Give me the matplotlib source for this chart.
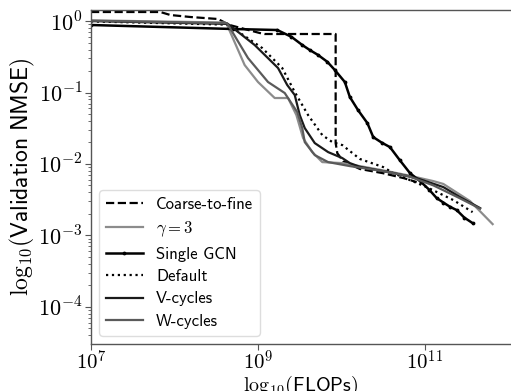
import matplotlib
matplotlib.use("Agg")
import matplotlib.pyplot as plt
import numpy as np

plt.rcParams["mathtext.fontset"] = "cm"

# values, as log10 exponents
coarse_x = [7.00, 7.83, 7.95, 8.19, 8.52, 8.66, 9.02, 9.08, 9.93, 9.93, 9.95, 10.02, 10.22, 10.50, 10.75, 10.90]
coarse_y = [0.127, 0.127, 0.085, 0.057, 0.029, -0.055, -0.167, -0.181, -0.181, -1.708, -1.85, -1.96, -2.07, -2.13, -2.20, -2.254]

gamma_x = [7.00, 8.60, 8.63, 8.84, 9.00, 9.20, 9.36, 9.46, 9.54, 9.65, 9.77, 10.01, 10.22, 10.50, 10.80, 11.10, 11.22, 11.54, 11.81]
gamma_y = [0.01, -0.02, -0.055, -0.615, -0.853, -1.077, -1.077, -1.316, -1.638, -1.834, -1.974, -1.988, -2.03, -2.09, -2.16, -2.24, -2.28, -2.52, -2.842]

single_x = [7.00, 8.70, 9.23, 9.40, 9.53, 9.62, 9.72, 9.83, 9.92, 10.04, 10.10, 10.20, 10.31, 10.38, 10.48, 10.58, 10.70, 10.82,
            10.95, 11.05, 11.14, 11.22, 11.30, 11.38, 11.47, 11.57]
single_y = [-0.055, -0.111, -0.125, -0.22, -0.335, -0.405, -0.475, -0.57, -0.685, -0.853, -1.063, -1.25, -1.428, -1.624, -1.70,
            -1.764, -1.95, -2.128, -2.25, -2.36, -2.478, -2.54, -2.60, -2.646, -2.75, -2.828]

default_x = [7.00, 8.64, 9.05, 9.29, 9.44, 9.60, 9.77, 9.89, 10.01, 10.22, 10.50, 10.62, 11.02, 11.34, 11.57]
default_y = [-0.005, -0.05, -0.377, -0.657, -0.993, -1.316, -1.596, -1.694, -1.736, -1.93, -2.044, -2.128, -2.324, -2.506, -2.674]

vcyc_x = [7.00, 8.64, 8.96, 9.24, 9.35, 9.44, 9.50, 9.56, 9.68, 9.84, 10.01, 10.10, 10.22, 10.62, 10.90, 11.22, 11.42, 11.66]
vcyc_y = [0.0, -0.04, -0.335, -0.657, -0.895, -1.035, -1.316, -1.498, -1.708, -1.834, -1.918, -1.988, -2.04, -2.128, -2.198, -2.324, -2.464, -2.618]

wcyc_x = [7.00, 8.63, 8.88, 9.12, 9.32, 9.47, 9.53, 9.56, 9.68, 9.84, 10.10, 10.50, 10.80, 11.10, 11.40, 11.66]
wcyc_y = [0.005, -0.03, -0.517, -0.853, -1.007, -1.274, -1.498, -1.694, -1.876, -1.974, -2.03, -2.10, -2.17, -2.30, -2.47, -2.625]

y_ticks = [0, -1, -2, -3, -4]
x_ticks = [7, 9, 11]


def p(v):
    return 10.0 ** np.asarray(v)


fig = plt.figure(figsize=(5.11, 3.91), dpi=100)
ax = fig.add_axes([91 / 511, 47 / 391, 420 / 511, 334 / 391])

ax.plot(p(coarse_x), p(coarse_y), color="black", ls="--", lw=1.6, label="Coarse-to-fine")
ax.plot(p(gamma_x), p(gamma_y), color="#8c8c8c", lw=1.6, label=r"$\gamma = 3$")
ax.plot(p(single_x), p(single_y), color="black", lw=1.8, marker=".", ms=3.5, label="Single GCN")
ax.plot(p(default_x), p(default_y), color="black", ls=":", lw=1.6, label="Default")
ax.plot(p(vcyc_x), p(vcyc_y), color="#1a1a1a", lw=1.6, label="V-cycles")
ax.plot(p(wcyc_x), p(wcyc_y), color="#5a5a5a", lw=1.6, label="W-cycles")

ax.set_xscale("log")
ax.set_yscale("log")
ax.set_xlim(1e7, 10 ** 12.03)
ax.set_ylim(10 ** -4.52, 10 ** 0.155)

ax.set_xticks(p(x_ticks))
ax.set_xticklabels([r"$10^{%d}$" % t for t in x_ticks])
ax.xaxis.set_minor_locator(matplotlib.ticker.NullLocator())
ax.set_yticks(p(y_ticks))
ax.set_yticklabels([r"$10^{%d}$" % t for t in y_ticks])
ax.tick_params(axis="both", which="major", labelsize=16, color="#555555", length=4, width=0.8, pad=2)
ax.tick_params(axis="x", which="major", labelsize=15, pad=0)
ax.tick_params(axis="y", which="minor", color="#555555", length=2, width=0.6)

for side in ["left", "bottom", "top"]:
    ax.spines[side].set_color("#555555")
    ax.spines[side].set_linewidth(1.0)
ax.spines["right"].set_visible(False)

ax.set_ylabel(r"$\mathrm{log}_{10}(\mathsf{Validation\ NMSE})$", fontsize=17, labelpad=1)
ax.set_xlabel(r"$\mathrm{log}_{10}(\mathsf{FLOPs})$", fontsize=14.5, labelpad=0)

ax.legend(loc="lower left", prop={"family": "cmss10", "size": 12}, labelspacing=0.45,
          handlelength=2.2, edgecolor="#dddddd", framealpha=1.0)

fig.savefig("out.png", dpi=100)
